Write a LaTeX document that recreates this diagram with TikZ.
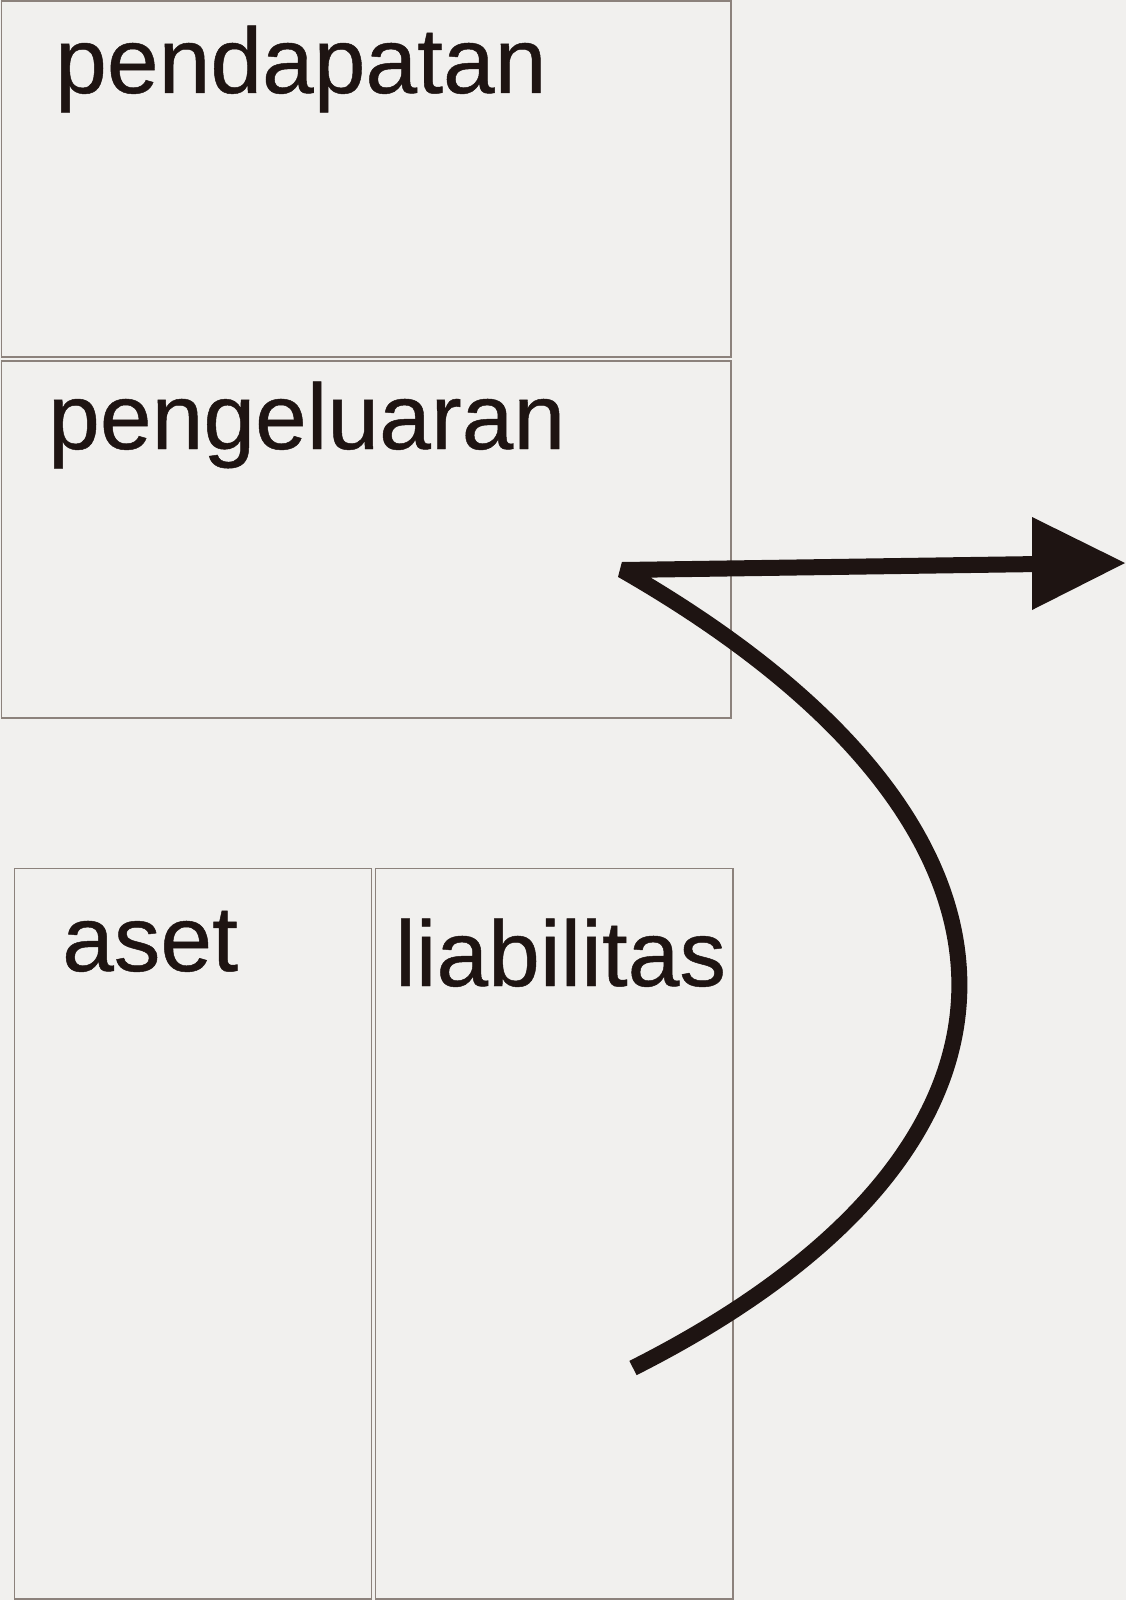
\documentclass[tikz,border=0pt]{standalone}
\usepackage{fontspec}
\setmainfont{Liberation Sans}
\newfontfamily\lblfont[FakeBold=0.5]{Liberation Sans}
\definecolor{bg}{HTML}{F1F0EE}
\definecolor{ink}{HTML}{1E1412}
\definecolor{edge}{HTML}{8C827C}
\begin{document}
\begin{tikzpicture}[x=1pt,y=-1pt,
  panel/.style={draw=edge,line width=1.5pt},
  lbl/.style={anchor=base west,inner sep=0pt,text=ink,font=\lblfont\fontsize{93}{100}\selectfont},
  flow/.style={draw=ink,line width=16pt,line join=bevel}]
\fill[bg] (0,0) rectangle (1126,1600);
\useasboundingbox (0,0) rectangle (1126,1600);
% boxes
\draw[panel] (1.5,1) rectangle (731,357) ;
\draw[panel] (1.5,361) rectangle (731,718);
\draw[panel] (14.5,868.5) rectangle (371.5,1599);
\draw[panel] (375.5,868.5) rectangle (733,1599);
% labels
\node[lbl] (pend) at (55,93) {pendapatan};
\node[lbl] (peng) at (48,449) {pengeluaran};
\node[lbl] (aset) at (62,971) {aset};
\node[lbl] (liab) at (395,986) {liabilitas};
% arrow
\coordinate (start) at (633,1368);
\coordinate (corner) at (622,570);
\coordinate (lineend) at (1040,564);
\coordinate (tip) at (1125,563);
\draw[flow] (start) .. controls (1065,1150) and (1075,830) .. (corner) -- (lineend);
\fill[ink] (1032,517) -- (tip) -- (1032,610) -- cycle;
\end{tikzpicture}
\end{document}
